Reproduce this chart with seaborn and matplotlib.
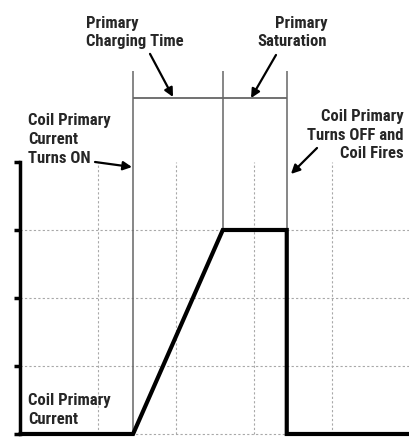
import seaborn as sns
import matplotlib.pyplot as plt

# coil primary current trace (time in grid units, current in grid units)
time = [0, 1.45, 2.6, 3.42, 3.42, 5.0]
current = [0, 0, 3, 3, 0, 0]

on_time = 1.45
sat_time = 2.6
off_time = 3.42

grid_x = [1, 2, 3, 4]
grid_y = [0, 1, 2, 3]
y_ticks = [0, 1, 2, 3, 4]

sns.set_style('white')
plt.rcParams['font.family'] = ['Liberation Sans Narrow', 'Roboto Condensed',
                               'DejaVu Sans']

fig = plt.figure(figsize=(4.1, 4.39), dpi=100)
ax = fig.add_axes([0, 0, 1, 1])
ax.set_xlim(-0.256, 5.0)
ax.set_ylim(-0.059, 6.397)

# dotted grid inside the plot box
grid_kw = dict(color='#a8a8a8', lw=0.8, linestyles=(0, (2, 2)))
ax.hlines(grid_y, 0, 5, **grid_kw)
ax.vlines(grid_x, 0, 4, **grid_kw)

# timing marker lines and bracket
ax.vlines([on_time, off_time], 0, 5.34, color='#666666', lw=1.1)
ax.vlines(sat_time, 3, 5.34, color='#666666', lw=1.1)
ax.hlines(4.94, on_time, off_time, color='#666666', lw=1.3)

sns.lineplot(x=time, y=current, sort=False, estimator=None, color='black',
             lw=3, ax=ax, solid_joinstyle='miter')

# axis: only the left spine from 0 to 4 with tick stubs
for s in ['top', 'right', 'bottom']:
    ax.spines[s].set_visible(False)
ax.spines['left'].set_position(('data', 0))
ax.spines['left'].set_bounds(0, 4)
ax.spines['left'].set_linewidth(2.5)
ax.spines['left'].set_color('black')
ax.set_yticks(y_ticks)
ax.set_yticklabels([])
ax.set_xticks([])
ax.tick_params(axis='y', direction='out', length=4, width=2.5, color='black', left=True)

txt = dict(fontsize=12, fontweight='bold', fontstretch='condensed',
           linespacing=1.3, va='center')
ax.text(0.846, 5.92, 'Primary\nCharging Time', ha='left', **txt)
ax.text(3.936, 5.92, 'Primary\nSaturation', ha='right', multialignment='right', **txt)
ax.text(0.103, 4.345, 'Coil Primary\nCurrent\nTurns ON', ha='left', **txt)
ax.text(4.923, 4.41, 'Coil Primary\nTurns OFF and\nCoil Fires', ha='right',
        multialignment='right', **txt)
ax.text(0.103, 0.368, 'Coil Primary\nCurrent', ha='left', **txt)

arrow = dict(arrowstyle='-|>', color='black', lw=1.6, mutation_scale=13,
             shrinkA=0, shrinkB=0)
ax.annotate('', xy=(1.962, 4.956), xytext=(1.667, 5.59), arrowprops=arrow)
ax.annotate('', xy=(2.962, 4.94), xytext=(3.282, 5.574), arrowprops=arrow)
ax.annotate('', xy=(1.436, 3.926), xytext=(0.962, 4.0), arrowprops=arrow)
ax.annotate('', xy=(3.474, 3.824), xytext=(3.808, 4.206), arrowprops=arrow)

fig.savefig('out.png', dpi=100)
